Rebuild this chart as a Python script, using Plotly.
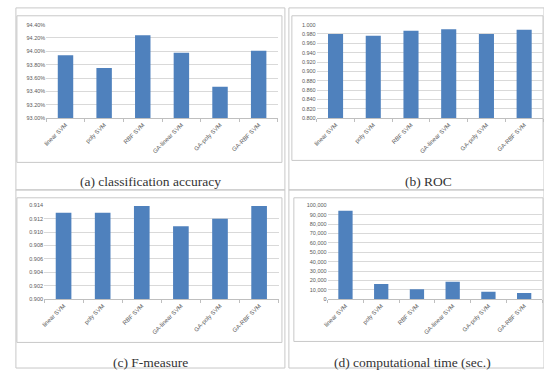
import plotly.graph_objects as go

W, H = 544, 372

categories = ["linear SVM", "poly SVM", "RBF SVM", "GA-linear SVM", "GA-poly SVM", "GA-RBF SVM"]
accuracy = [93.94, 93.75, 94.24, 93.98, 93.47, 94.01]
roc = [0.980, 0.976, 0.987, 0.990, 0.980, 0.989]
fmeasure = [0.9129, 0.9129, 0.9139, 0.9109, 0.9120, 0.9139]
comp_time = [94400, 16100, 10500, 18500, 8000, 6600]

captions = ["(a) classification accuracy", "(b) ROC", "(c) F-measure", "(d) computational time (sec.)"]

BAR = "#4f81bd"
GRID = "#d9d9d9"
FRAME = "#c8c8c8"
YTICKF = dict(family="Liberation Sans", size=5.5, color="#595959")
XTICKF = dict(family="Liberation Sans", size=6, color="#595959")

def px(x):
    return x / W

def py(y):
    return 1 - y / H

fig = go.Figure()

panels = [
    dict(vals=accuracy, x=(42.5, 276), y=(22, 117), rng=[93.0, 94.4], dtick=0.2, fmt=".2f", suf="%"),
    dict(vals=roc, x=(315, 543), y=(22, 117), rng=[0.80, 1.00], dtick=0.02, fmt=".3f", suf=""),
    dict(vals=fmeasure, x=(40.3, 276.7), y=(205.7, 301), rng=[0.900, 0.914], dtick=0.002, fmt=".3f", suf=""),
    dict(vals=comp_time, x=(326, 542), y=(205.7, 301), rng=[0, 100000], dtick=10000, fmt=",d", suf=""),
]

layout = dict(
    width=W, height=H, margin=dict(l=0, r=0, t=0, b=0),
    paper_bgcolor="white", plot_bgcolor="white", showlegend=False,
    bargap=0.6,
)

for i, p in enumerate(panels):
    n = "" if i == 0 else str(i + 1)
    fig.add_trace(go.Bar(x=categories, y=p["vals"], marker=dict(color=BAR, line=dict(width=0)),
                         xaxis="x" + n, yaxis="y" + n, hoverinfo="x+y"))
    layout["xaxis" + n] = dict(
        domain=[px(p["x"][0]), px(p["x"][1])], anchor="y" + n,
        tickangle=-45, tickfont=XTICKF, showline=True, linecolor="#bfbfbf", linewidth=1,
        ticks="outside", ticklen=3, tickcolor="#bfbfbf", tickson="boundaries",
        showgrid=False, fixedrange=True,
    )
    layout["yaxis" + n] = dict(
        domain=[py(p["y"][1]), py(p["y"][0])], anchor="x" + n,
        range=p["rng"], dtick=p["dtick"], tick0=p["rng"][0], tickformat=p["fmt"], ticksuffix=p["suf"],
        tickfont=YTICKF, showgrid=True, gridcolor=GRID, gridwidth=1,
        showline=False, zeroline=False, ticks="", ticklen=0, fixedrange=True,
    )

shapes = []
outer = [(12, 5, 283, 190), (287, 5, 544, 190), (12, 190, 283, 371), (287, 190, 544, 371)]
inner = [(13, 13, 280, 162), (290, 13, 543, 160), (13, 198, 280, 345), (292, 198, 543, 344)]
for (x0, y0, x1, y1) in outer + inner:
    shapes.append(dict(type="rect", xref="paper", yref="paper",
                       x0=px(x0), x1=px(x1), y0=py(y1), y1=py(y0),
                       line=dict(color=FRAME, width=1), fillcolor="rgba(0,0,0,0)", layer="below"))
layout["shapes"] = shapes

cap_pos = [(148, 181), (428, 181), (148, 365), (412, 365)]
annotations = []
for cap, (cx, cy) in zip(captions, cap_pos):
    annotations.append(dict(text=cap, x=px(cx), y=py(cy), xref="paper", yref="paper",
                            showarrow=False, xanchor="center", yanchor="middle",
                            font=dict(family="Liberation Serif", size=13.5, color="#333333")))
layout["annotations"] = annotations

fig.update_layout(**layout)
fig.write_html("out.html", config={"displayModeBar": False},
               post_script="document.body.style.margin='0';document.body.style.overflow='hidden';")
